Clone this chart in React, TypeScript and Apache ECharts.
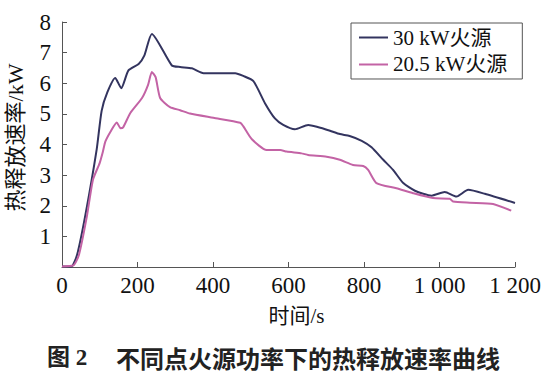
import React, { useEffect, useRef } from "react";
import * as echarts from "echarts";

const time30 = [0, 25, 40, 62, 92, 105, 120, 141, 157, 176, 203, 218, 238, 291, 313, 344, 375, 459, 480, 507, 538, 564, 586, 617, 652, 675, 710, 736, 762, 794, 820, 851, 877, 904, 935, 979, 1014, 1045, 1076, 1120, 1200];
const hrr30 = [0.02, 0.02, 0.4, 1.7, 3.85, 5.1, 5.7, 6.17, 5.84, 6.42, 6.63, 6.9, 7.61, 6.58, 6.53, 6.49, 6.33, 6.33, 6.24, 6.07, 5.34, 4.85, 4.64, 4.5, 4.64, 4.58, 4.45, 4.34, 4.28, 4.12, 3.91, 3.5, 3.17, 2.74, 2.49, 2.33, 2.45, 2.3, 2.52, 2.39, 2.09];

const time20 = [0, 30, 45, 66, 82, 100, 108, 115, 130, 145, 155, 162, 181, 212, 228, 238, 248, 260, 286, 313, 339, 401, 472, 480, 503, 542, 578, 595, 635, 652, 701, 736, 771, 798, 811, 833, 886, 930, 983, 1027, 1036, 1080, 1142, 1190];
const hrr20 = [0.02, 0.05, 0.4, 1.66, 2.85, 3.4, 3.75, 4.1, 4.45, 4.72, 4.53, 4.56, 5.03, 5.52, 5.95, 6.37, 6.2, 5.52, 5.22, 5.12, 5.01, 4.87, 4.71, 4.6, 4.17, 3.82, 3.82, 3.77, 3.71, 3.66, 3.6, 3.5, 3.33, 3.3, 3.17, 2.74, 2.57, 2.41, 2.25, 2.23, 2.14, 2.1, 2.06, 1.84];

const seriesNames = ["30 kW火源", "20.5 kW火源"];
const xTickLabels = ["0", "200", "400", "600", "800", "1 000", "1 200"];
const yTickLabels = ["", "1", "2", "3", "4", "5", "6", "7", "8"];
const xName = "时间/s";
const yName = "热释放速率/kW";
const captionNum = "图 2";
const captionText = "不同点火源功率下的热释放速率曲线";

const SERIF = "Liberation Serif, Noto Sans CJK SC, serif";

export default function App() {
  const ref = useRef<HTMLDivElement>(null);
  useEffect(() => {
    if (!ref.current) return;
    document.body.style.margin = "0";
    const chart = echarts.init(ref.current, null, { renderer: "svg" });
    const zip = (t: number[], v: number[]) => t.map((x, i) => [x, v[i]]);
    chart.setOption({
      animation: false,
      backgroundColor: "#fff",
      grid: { left: 62, right: 38, top: 22, bottom: 109, containLabel: false, outerBoundsMode: "none" },
      legend: {
        orient: "vertical",
        left: 351,
        top: 23,
        padding: [4, 15, 4, 8],
        itemGap: 6,
        itemWidth: 29,
        itemHeight: 2,
        icon: "rect",
        borderColor: "#555",
        borderWidth: 1,
        textStyle: { fontFamily: SERIF, fontSize: 21, color: "#111" },
        data: seriesNames,
      },
      xAxis: {
        type: "value",
        min: 0,
        max: 1200,
        interval: 200,
        name: xName,
        nameLocation: "middle",
        nameGap: 38,
        nameTextStyle: { fontFamily: SERIF, fontSize: 21, color: "#111", padding: [0, 0, 0, 16] },
        axisLine: { show: true, lineStyle: { color: "#555", width: 1 } },
        axisTick: { show: true, inside: true, length: 5, lineStyle: { color: "#555" } },
        axisLabel: {
          fontFamily: SERIF,
          fontSize: 23,
          color: "#111",
          margin: 7,
          formatter: (v: number) => xTickLabels[Math.round(v / 200)] ?? "",
        },
        splitLine: { show: false },
      },
      yAxis: {
        type: "value",
        min: 0,
        max: 8,
        interval: 1,
        name: yName,
        nameLocation: "middle",
        nameGap: 36,
        nameRotate: 90,
        nameTextStyle: { fontFamily: SERIF, fontSize: 22, color: "#111", padding: [0, 0, 0, 14] },
        axisLine: { show: true, lineStyle: { color: "#555", width: 1 } },
        axisTick: { show: true, inside: true, length: 5, lineStyle: { color: "#555" } },
        axisLabel: {
          fontFamily: SERIF,
          fontSize: 23,
          color: "#111",
          margin: 11,
          formatter: (v: number) => yTickLabels[Math.round(v)] ?? "",
        },
        splitLine: { show: false },
      },
      series: [
        {
          name: seriesNames[0],
          type: "line",
          data: zip(time30, hrr30),
          symbol: "none",
          smooth: 0.2,
          lineStyle: { color: "#33345f", width: 2 },
          itemStyle: { color: "#33345f" },
        },
        {
          name: seriesNames[1],
          type: "line",
          data: zip(time20, hrr20),
          symbol: "none",
          smooth: 0.2,
          lineStyle: { color: "#c363a5", width: 2 },
          itemStyle: { color: "#c363a5" },
        },
      ],
      graphic: [
        {
          type: "text",
          x: 47,
          y: 357,
          style: {
            text: captionNum,
            fontFamily: SERIF,
            fontWeight: "bold",
            fontSize: 23,
            fill: "#222",
            verticalAlign: "middle",
          },
        },
        {
          type: "text",
          x: 308,
          y: 357,
          style: {
            text: captionText,
            fontFamily: "Noto Sans CJK SC",
            fontWeight: "bold",
            fontSize: 24,
            fill: "#222",
            align: "center",
            verticalAlign: "middle",
          },
        },
      ],
    });
    return () => chart.dispose();
  }, []);
  return <div ref={ref} style={{ width: 553, height: 376 }} />;
}
